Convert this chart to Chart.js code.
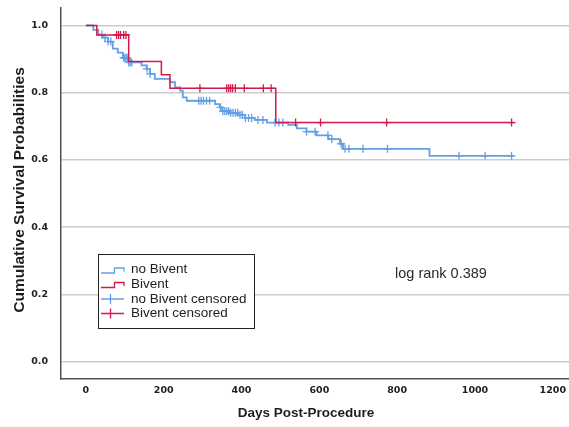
<!DOCTYPE html>
<html><head><meta charset="utf-8">
<script src="https://cdn.jsdelivr.net/npm/chart.js@4/dist/chart.umd.min.js"></script>
<style>html,body{margin:0;padding:0;background:#fff;}canvas{display:block;}</style>
</head><body>
<canvas id="c" width="569" height="427"></canvas>
<script>
// ---- data ----
const xTicks = [0, 200, 400, 600, 800, 1000, 1200];
const yTicks = [0.0, 0.2, 0.4, 0.6, 0.8, 1.0];

// no Bivent: event days and survival after each event
const noBivDays = [0, 19, 32, 44, 57, 69, 82, 95, 108, 143, 156, 165, 177, 216, 229, 242, 249, 259, 332, 344, 350, 370, 391, 409, 434, 465, 520, 542, 567, 593, 623, 653, 661, 883];
const noBivSurv = [1.0, 0.987, 0.973, 0.964, 0.952, 0.931, 0.919, 0.904, 0.890, 0.881, 0.871, 0.856, 0.841, 0.831, 0.816, 0.806, 0.786, 0.776, 0.766, 0.756, 0.745, 0.740, 0.734, 0.725, 0.719, 0.711, 0.704, 0.694, 0.684, 0.673, 0.662, 0.648, 0.633, 0.612];
const noBivEnd = 1100;
const noBivCensored = [41, 49, 57, 64, 97, 100, 103, 106, 110, 114, 118, 157, 165, 290, 296, 302, 310, 318, 346, 352, 357, 362, 367, 372, 378, 384, 390, 396, 402, 410, 418, 426, 442, 455, 486, 496, 506, 567, 589, 622, 632, 656, 666, 676, 712, 775, 959, 1026, 1094];

// Bivent
const bivDays = [0, 28, 110, 194, 216, 488];
const bivSurv = [1.0, 0.972, 0.893, 0.853, 0.813, 0.711];
const bivEnd = 1100;
const bivCensored = [79, 84, 89, 97, 103, 293, 362, 367, 372, 377, 384, 407, 456, 476, 539, 603, 773, 1094];

const seriesNames = ['no Bivent', 'Bivent', 'no Bivent censored', 'Bivent censored'];
const annotationText = 'log rank 0.389';
const xTitle = 'Days Post-Procedure';
const yTitle = 'Cumulative Survival Probabilities';

// ---- helpers ----
function stepPoints(days, surv, end) {
  const pts = days.map((d, i) => ({x: d, y: surv[i]}));
  pts.push({x: end, y: surv[surv.length - 1]});
  return pts;
}
function survAt(t, days, surv) {
  let s = surv[0];
  for (let i = 0; i < days.length; i++) { if (days[i] <= t) s = surv[i]; }
  return s;
}
function censorPoints(cens, days, surv) {
  return cens.map(t => ({x: t, y: survAt(t, days, surv)}));
}

const BLUE = '#649fe6';
const RED = '#d4184a';
const TXT = '#1e1e1e';

const overlay = {
  id: 'overlay',
  afterDraw(chart) {
    const ctx = chart.ctx;
    ctx.save();
    // axis titles
    ctx.fillStyle = TXT;
    ctx.textAlign = 'center';
    ctx.textBaseline = 'middle';
    ctx.font = 'bold 13.5px "Liberation Sans", Arial, sans-serif';
    ctx.fillText(xTitle, 306, 413);
    ctx.save();
    ctx.translate(20, 190);
    ctx.rotate(-Math.PI / 2);
    ctx.font = 'bold 15.5px "Liberation Sans", Arial, sans-serif';
    ctx.fillText(yTitle, 0, 0);
    ctx.restore();

    // legend box
    const L = 98.5, T = 254.5, R = 254.5, B = 328.5;
    ctx.fillStyle = '#fff';
    ctx.fillRect(L, T, R - L, B - T);
    ctx.strokeStyle = '#222';
    ctx.lineWidth = 1;
    ctx.strokeRect(L, T, R - L, B - T);
    const rows = [269.5, 284, 299, 313.5];
    const cols = [BLUE, RED, BLUE, RED];
    ctx.font = '13.5px "Liberation Sans", Arial, sans-serif';
    ctx.textAlign = 'left';
    rows.forEach((y, i) => {
      ctx.strokeStyle = cols[i];
      ctx.lineWidth = 1.3;
      ctx.beginPath();
      if (i < 2) {
        ctx.moveTo(101, y + 3.5); ctx.lineTo(114.5, y + 3.5); ctx.lineTo(114.5, y - 1.5);
        ctx.lineTo(124, y - 1.5); ctx.lineTo(124, y + 2);
      } else {
        ctx.moveTo(101, y); ctx.lineTo(124, y);
        ctx.moveTo(110.5, y - 5); ctx.lineTo(110.5, y + 5);
      }
      ctx.stroke();
      ctx.fillStyle = TXT;
      ctx.fillText(seriesNames[i], 131, y);
    });

    // log rank annotation
    ctx.font = '14.5px "Liberation Sans", Arial, sans-serif';
    ctx.fillStyle = '#2a2a2a';
    ctx.fillText(annotationText, 395, 274);
    ctx.restore();
  }
};

const tickFont = {family: '"DejaVu Sans", sans-serif', size: 9.5, weight: 'bold'};
function noPad(s) { s.paddingTop = 0; s.paddingBottom = 0; s.paddingLeft = 0; s.paddingRight = 0; }

new Chart(document.getElementById('c'), {
  type: 'line',
  data: {
    datasets: [
      {label: seriesNames[1], data: stepPoints(bivDays, bivSurv, bivEnd), stepped: 'before',
       borderColor: RED, borderWidth: 1.5, pointRadius: 0, fill: false},
      {label: seriesNames[3], data: censorPoints(bivCensored, bivDays, bivSurv), showLine: false,
       pointStyle: 'cross', pointRadius: 4, pointBorderColor: RED, pointBorderWidth: 1.3, borderColor: RED},
      {label: seriesNames[0], data: stepPoints(noBivDays, noBivSurv, noBivEnd), stepped: 'before',
       borderColor: BLUE, borderWidth: 1.8, pointRadius: 0, fill: false},
      {label: seriesNames[2], data: censorPoints(noBivCensored, noBivDays, noBivSurv), showLine: false,
       pointStyle: 'cross', pointRadius: 4, pointBorderColor: BLUE, pointBorderWidth: 1.3, borderColor: BLUE}
    ]
  },
  options: {
    responsive: false,
    animation: false,
    events: [],
    layout: {autoPadding: false, padding: {top: 8, right: 0, left: 0, bottom: 0}},
    plugins: {legend: {display: false}, tooltip: {enabled: false}},
    scales: {
      x: {
        type: 'linear', min: -64, max: 1241.6,
        afterBuildTicks: s => { s.ticks = xTicks.map(v => ({value: v})); },
        afterFit: s => { s.height = 48; noPad(s); },
        grid: {display: false, drawTicks: false},
        border: {display: true, color: '#505050', width: 1.5},
        ticks: {font: tickFont, color: TXT, padding: 6, maxRotation: 0, autoSkip: false, callback: v => String(v)}
      },
      y: {
        type: 'linear', min: -0.052, max: 1.052,
        afterBuildTicks: s => { s.ticks = yTicks.map(v => ({value: v})); },
        afterFit: s => { s.width = 61; noPad(s); },
        grid: {color: '#cccccc', lineWidth: 1.5, drawTicks: false},
        border: {display: true, color: '#505050', width: 1.5},
        ticks: {font: tickFont, color: TXT, padding: 13, callback: v => Number(v).toFixed(1)}
      }
    }
  },
  plugins: [overlay]
});
</script>
</body></html>
